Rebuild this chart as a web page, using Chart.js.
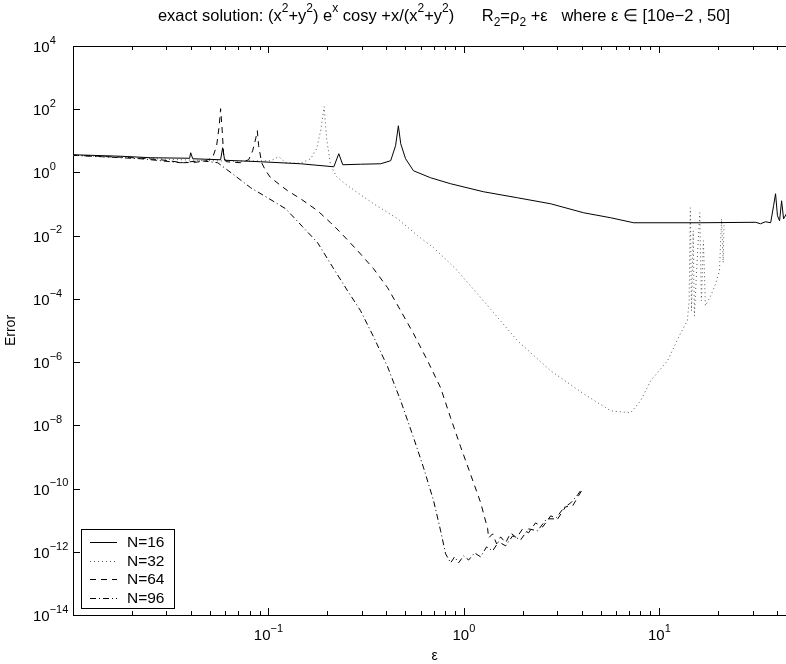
<!DOCTYPE html>
<html>
<head>
<meta charset="utf-8">
<script src="https://cdn.jsdelivr.net/npm/chart.js@4.4.0/dist/chart.umd.min.js"></script>
<style>
html, body { margin: 0; padding: 0; overflow: hidden; background: #fff; }
#wrap { position: relative; width: 830px; height: 664px; }
</style>
</head>
<body>
<div id="wrap"><canvas id="errChart"></canvas></div>
<script>
// values (epsilon, error)
const eps16 = [0.01, 0.0175, 0.025, 0.0395, 0.04, 0.041, 0.0569, 0.0583, 0.0597, 0.0912, 0.146, 0.216, 0.229, 0.24, 0.296, 0.375, 0.422, 0.447, 0.462, 0.475, 0.503, 0.552, 0.675, 0.855, 1.26, 1.88, 2.78, 4.1, 5.63, 7.38, 16.3, 31.1, 32.9, 34.9, 37.1, 38.4, 39.3, 40.2, 41.2, 42.2, 43.2, 44.7, 47, 50];
const err16 = [3.63, 3.26, 2.92, 2.81, 4.2, 2.71, 2.52, 6.05, 2.43, 2.18, 1.88, 1.51, 3.91, 1.75, 1.82, 1.88, 2.35, 7.0, 30, 8.1, 2.71, 1.13, 0.68, 0.439, 0.245, 0.158, 0.102, 0.053, 0.0369, 0.0256, 0.0256, 0.0265, 0.0238, 0.0275, 0.0256, 0.0884, 0.212, 0.0426, 0.0296, 0.127, 0.0343, 0.0493, 0.03, 0.028];

const eps32 = [0.01, 0.0197, 0.0356, 0.0641, 0.1026, 0.1128, 0.1225, 0.146, 0.1643, 0.1764, 0.185, 0.1927, 0.1985, 0.208, 0.2233, 0.2424, 0.286, 0.345, 0.458, 0.58, 0.7, 0.907, 1.26, 1.88, 2.78, 4.1, 5.63, 7.12, 8.01, 9.02, 11.0, 12.8, 13.9, 14.2, 14.4, 14.6, 14.9, 15.1, 15.7, 16.1, 16.4, 16.8, 17.2, 18.3, 19.4, 20.3, 20.8, 21.2, 21.4, 21.6];
const err32 = [3.5, 2.92, 2.52, 2.26, 2.35, 3.14, 2.03, 1.95, 2.71, 5.62, 20.9, 120, 11.6, 1.63, 0.731, 0.472, 0.228, 0.102, 0.0343, 0.00993, 0.00414, 0.000897, 8.7e-5, 4.72e-6, 5.3e-7, 9.9e-8, 2.88e-8, 2.49e-8, 5.96e-8, 2.56e-7, 1.1e-6, 7.87e-6, 2.03e-5, 8.7e-5, 0.0764, 4.2e-5, 0.0143, 2.9e-5, 0.00333, 0.0531, 8.7e-5, 0.0069, 6.05e-5, 1.25e-4, 3.0e-4, 7.7e-4, 0.0343, 0.00139, 0.0206, 0.025];

const eps64 = [0.01, 0.0204, 0.0281, 0.0368, 0.0425, 0.0477, 0.0518, 0.0543, 0.056, 0.0569, 0.058, 0.059, 0.0611, 0.0721, 0.0792, 0.083, 0.086, 0.0877, 0.0891, 0.0923, 0.0968, 0.1026, 0.1253, 0.146, 0.1785, 0.208, 0.2344, 0.286, 0.345, 0.407, 0.475, 0.553, 0.652, 0.76, 0.855, 0.962, 1.082, 1.217, 1.322, 1.338, 1.402, 1.47, 1.541, 1.634, 1.734, 1.86, 1.996, 2.14, 2.325, 2.53, 2.78, 3.02, 3.31, 3.6, 3.86, 4.05];
const err64 = [3.5, 2.92, 2.52, 2.03, 2.1, 2.35, 2.92, 7.0, 30, 104, 20.9, 3.38, 2.18, 2.03, 2.52, 4.86, 11.6, 20.9, 7.0, 2.03, 1.13, 0.68, 0.264, 0.147, 0.0614, 0.0256, 0.01235, 0.00333, 0.000897, 2.25e-4, 4.2e-5, 7.87e-6, 1.1e-6, 1.54e-7, 1.73e-8, 2.09e-9, 2.79e-10, 3.63e-11, 5.4e-12, 2.75e-12, 3.69e-12, 1.78e-12, 2.96e-12, 1.91e-12, 3.96e-12, 2.75e-12, 5.3e-12, 3.96e-12, 8.2e-12, 6.1e-12, 1.37e-11, 1.1e-11, 2.64e-11, 2.84e-11, 5.9e-11, 9.8e-11];

const eps96 = [0.01, 0.0222, 0.0356, 0.045, 0.055, 0.0664, 0.0811, 0.099, 0.1225, 0.1496, 0.1785, 0.2156, 0.254, 0.296, 0.345, 0.407, 0.475, 0.553, 0.622, 0.7, 0.76, 0.806, 0.855, 0.896, 0.939, 0.996, 1.057, 1.134, 1.217, 1.306, 1.402, 1.505, 1.634, 1.775, 1.95, 2.14, 2.38, 2.65, 2.94, 3.24, 3.52, 3.82, 4.0];
const err96 = [3.5, 2.71, 2.03, 2.35, 2.03, 0.846, 0.328, 0.158, 0.071, 0.0191, 0.00596, 0.000897, 1.8e-4, 4.2e-5, 6.3e-6, 7.1e-7, 5.96e-8, 4.0e-9, 4.5e-10, 4.08e-11, 4.6e-12, 8.6e-13, 4.46e-13, 6.9e-13, 4.46e-13, 7.4e-13, 5.5e-13, 9.2e-13, 6.9e-13, 1.43e-12, 1.07e-12, 2.06e-12, 1.54e-12, 3.18e-12, 2.38e-12, 5.3e-12, 4.6e-12, 1.1e-11, 1.1e-11, 2.45e-11, 3.53e-11, 6.3e-11, 9.8e-11];

const seriesNames = ['N=16', 'N=32', 'N=64', 'N=96'];
const xMajor = [0.1, 1, 10];
const yMajor = [1e4, 1e2, 1, 1e-2, 1e-4, 1e-6, 1e-8, 1e-10, 1e-12, 1e-14];

// title pieces: 0 normal, 1 superscript, -1 subscript
const titleParts = [
  ['exact solution: (x', 0], ['2', 1], ['+y', 0], ['2', 1], [') e', 0], ['x', 1],
  [' cosy +x/(x', 0], ['2', 1], ['+y', 0], ['2', 1], [')      R', 0], ['2', -1],
  ['=\u03c1', 0], ['2', -1], [' +\u03b5   where \u03b5 \u2208 [10e\u22122 , 50]', 0]
];

const FONT = '"Liberation Sans", Arial, Helvetica, sans-serif';
function setFont(ctx, size) { ctx.font = size + 'px ' + FONT; }

function drawRich(ctx, parts, x, y, size, align) {
  const small = Math.round(size * 0.72);
  let w = 0;
  parts.forEach(p => { setFont(ctx, p[1] ? small : size); w += ctx.measureText(p[0]).width; });
  let cx = align === 'center' ? x - w / 2 : (align === 'right' ? x - w : x);
  ctx.textAlign = 'left';
  ctx.textBaseline = 'alphabetic';
  parts.forEach(p => {
    setFont(ctx, p[1] ? small : size);
    const dy = p[1] === 1 ? -size * 0.55 : (p[1] === -1 ? size * 0.3 : 0);
    ctx.fillText(p[0], cx, y + dy);
    cx += ctx.measureText(p[0]).width;
  });
}

function powLabel(v) {
  const e = Math.round(Math.log10(v));
  return [['10', 0], [(e < 0 ? '\u2212' : '') + Math.abs(e), 1]];
}

function pts(xs, ys) {
  return xs.map((x, i) => ({ x: x, y: ys[i] }));
}

// minor ticks 1..9 per decade on the x axis
const xTickVals = [];
for (let d = -2; d <= 1; d++) {
  for (let m = 1; m <= 9; m++) {
    const v = m * Math.pow(10, d);
    if (v >= 0.01 && v <= 50) xTickVals.push(v);
  }
}

const framePlugin = {
  id: 'frame',
  afterDraw(chart) {
    const { ctx, chartArea: a } = chart;
    const xs = chart.scales.x, ys = chart.scales.y;
    ctx.save();
    ctx.strokeStyle = '#000';
    ctx.fillStyle = '#000';
    ctx.lineWidth = 1;

    // top frame line
    ctx.beginPath();
    ctx.moveTo(a.left, Math.round(a.top) + 0.5);
    ctx.lineTo(a.right, Math.round(a.top) + 0.5);
    ctx.stroke();

    // inward tick marks
    ctx.beginPath();
    xs.ticks.forEach(t => {
      const px = Math.round(xs.getPixelForValue(t.value)) + 0.5;
      const major = xMajor.some(v => Math.abs(v - t.value) < 1e-9);
      const len = major ? 7 : 4;
      ctx.moveTo(px, a.bottom); ctx.lineTo(px, a.bottom - len);
      ctx.moveTo(px, a.top); ctx.lineTo(px, a.top + len);
    });
    yMajor.forEach(v => {
      const py = Math.round(ys.getPixelForValue(v)) + 0.5;
      ctx.moveTo(a.left, py); ctx.lineTo(a.left + 7, py);
      ctx.moveTo(a.right, py); ctx.lineTo(a.right - 7, py);
    });
    ctx.stroke();

    // tick labels
    xMajor.forEach(v => drawRich(ctx, powLabel(v), xs.getPixelForValue(v), 640, 15, 'center'));
    yMajor.forEach(v => drawRich(ctx, powLabel(v), 33, ys.getPixelForValue(v) + 6, 15, 'left'));

    // title
    drawRich(ctx, titleParts, 444, 21, 16.5, 'center');

    // axis titles
    setFont(ctx, 14);
    ctx.textAlign = 'center';
    ctx.textBaseline = 'middle';
    ctx.fillText('\u03b5', (a.left + a.right) / 2, 656);
    ctx.save();
    ctx.translate(11, (a.top + a.bottom) / 2);
    ctx.rotate(-Math.PI / 2);
    ctx.fillText('Error', 0, 0);
    ctx.restore();

    // legend box
    const lx = 81, ly = 529, lw = 93, lh = 79;
    ctx.fillStyle = '#fff';
    ctx.fillRect(lx, ly, lw, lh);
    ctx.strokeStyle = '#000';
    ctx.strokeRect(lx + 0.5, ly + 0.5, lw, lh);
    chart.data.datasets.forEach((ds, i) => {
      const ry = Math.round(ly + 13 + i * 18.5) + 0.5;
      ctx.setLineDash(ds.borderDash || []);
      ctx.strokeStyle = ds.borderColor;
      ctx.beginPath();
      ctx.moveTo(lx + 9, ry);
      ctx.lineTo(lx + 36, ry);
      ctx.stroke();
      ctx.setLineDash([]);
      ctx.fillStyle = '#000';
      setFont(ctx, 15.5);
      ctx.textAlign = 'left';
      ctx.textBaseline = 'middle';
      ctx.fillText(ds.label, lx + 46, ry);
    });
    ctx.restore();
  }
};

new Chart(document.getElementById('errChart'), {
  type: 'line',
  data: {
    datasets: [
      { label: seriesNames[0], data: pts(eps16, err16), borderColor: '#000', borderWidth: 1, borderDash: [] },
      { label: seriesNames[1], data: pts(eps32, err32), borderColor: '#555', borderWidth: 1, borderDash: [1, 3] },
      { label: seriesNames[2], data: pts(eps64, err64), borderColor: '#000', borderWidth: 1, borderDash: [6, 5] },
      { label: seriesNames[3], data: pts(eps96, err96), borderColor: '#000', borderWidth: 1, borderDash: [6, 3, 1, 3] }
    ]
  },
  options: {
    animation: false,
    responsive: true,
    maintainAspectRatio: false,
    layout: { padding: { left: 73, top: 46, right: 34, bottom: 49 } },
    elements: { point: { radius: 0 }, line: { tension: 0 } },
    plugins: { legend: { display: false }, title: { display: false }, tooltip: { enabled: false } },
    scales: {
      x: {
        type: 'logarithmic', min: 0.01, max: 50,
        grid: { display: false },
        border: { display: true, color: '#000', width: 1 },
        ticks: { display: false },
        afterBuildTicks(s) { s.ticks = xTickVals.map(v => ({ value: v })); },
        afterFit(s) { s.height = 0; }
      },
      y: {
        type: 'logarithmic', min: 1e-14, max: 1e4,
        grid: { display: false },
        border: { display: true, color: '#000', width: 1 },
        ticks: { display: false },
        afterBuildTicks(s) { s.ticks = yMajor.map(v => ({ value: v })); },
        afterFit(s) { s.width = 0; }
      }
    }
  },
  plugins: [framePlugin]
});
</script>
</body>
</html>
